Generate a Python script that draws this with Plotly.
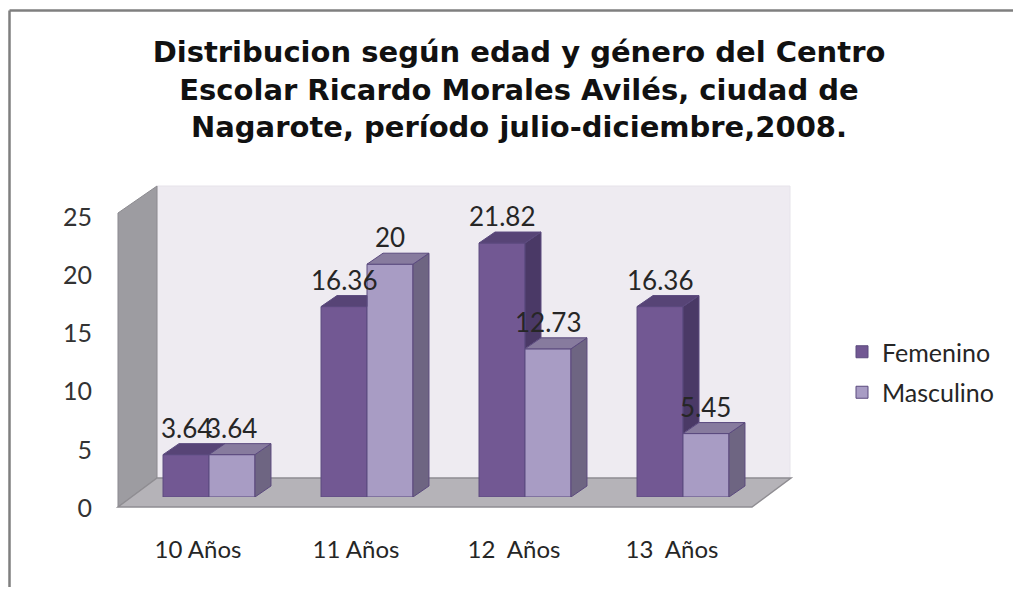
import plotly.graph_objects as go

# ---------------- data ----------------
categories = ["10 Años", "11 Años", "12\u00a0 Años", "13\u00a0 Años"]
femenino = [3.64, 16.36, 21.82, 16.36]
masculino = [3.64, 20, 12.73, 5.45]
series_names = ["Femenino", "Masculino"]
y_ticks = [0, 5, 10, 15, 20, 25]
title_lines = [
    "Distribucion según edad y género del Centro",
    "Escolar Ricardo Morales Avilés, ciudad de",
    "Nagarote, período julio-diciembre,2008.",
]

# ---------------- layout constants (screen pixels) ----------------
# the page body has an 8px margin, so the figure is drawn at (8, 8);
# keep the figure inside the window so no scrollbars appear
OFF = 8
W, H = 1021 - 2 * OFF, 595 - 2 * OFF
def px(x):
    return (x - OFF) / W
def py(y):
    return 1 - (y - OFF) / H

X_L, X_R = 130, 762          # pixel span of category range [-0.5, 3.5]
Y0, Y25 = 497, 206           # pixel of value 0 and 25 on bar plane
BAR_W = 0.291                # bar width in category units
DEPTH_X_PX, DEPTH_Y_PX = 16, 11
x_per_px = 4.0 / (X_R - X_L)
y_per_px = 25.0 / (Y0 - Y25)
DX = DEPTH_X_PX * x_per_px
DY = DEPTH_Y_PX * y_per_px

FEM_FRONT, FEM_TOP, FEM_SIDE = "#725893", "#574476", "#4A3966"
MAS_FRONT, MAS_TOP, MAS_SIDE = "#A89CC4", "#877B9E", "#6E6582"
EDGE = "#5B4A7E"
FONT = "Lato"

xs = list(range(len(categories)))

fig = go.Figure()
fig.add_trace(go.Bar(
    x=xs, y=femenino, name=series_names[0], width=BAR_W, offset=-BAR_W,
    marker=dict(color=FEM_FRONT, line=dict(color=EDGE, width=1)),
    legendgroup="f", hoverinfo="skip"))
fig.add_trace(go.Bar(
    x=xs, y=masculino, name=series_names[1], width=BAR_W, offset=0,
    marker=dict(color=MAS_FRONT, line=dict(color=EDGE, width=1)),
    legendgroup="m", hoverinfo="skip"))

# invisible helper traces for the offset label axes
fig.add_trace(go.Scatter(x=xs, y=[0] * len(xs), xaxis="x2", yaxis="y",
                         mode="markers", marker=dict(opacity=0),
                         showlegend=False, hoverinfo="skip"))
fig.add_trace(go.Scatter(x=[0], y=[0], xaxis="x", yaxis="y2",
                         mode="markers", marker=dict(opacity=0),
                         showlegend=False, hoverinfo="skip"))

shapes = []
def ppoly(pts, fill, line=None, lw=1, layer="below"):
    path = "M " + " L ".join(f"{px(a):.5f},{py(b):.5f}" for a, b in pts) + " Z"
    shapes.append(dict(type="path", xref="paper", yref="paper", path=path,
                       fillcolor=fill, line=dict(color=line or fill, width=lw),
                       layer=layer))

# chart frame (only top and left edges are inside the picture)
for (xa, ya, xb, yb) in ((9.5, 10.5, 1030, 10.5), (9.5, 10.5, 9.5, 610)):
    shapes.append(dict(type="line", xref="paper", yref="paper",
                       x0=px(xa), y0=py(ya), x1=px(xb), y1=py(yb),
                       line=dict(color="#7F7F7F", width=2.5), layer="below"))
# back wall
ppoly([(157, 186), (790, 186), (790, 478), (157, 478)], "#EEEBF1", "#E6E3EA")
# side wall
ppoly([(118, 213), (157, 186), (157, 478), (118, 507)], "#9D9CA1", "#8C8B90")
# floor
ppoly([(118, 507), (157, 478), (791, 478), (752, 507)], "#B5B3B8", "#8F8D92", lw=1.5)


def dpoly(pts, fill):
    path = "M " + " L ".join(f"{a:.5f},{b:.5f}" for a, b in pts) + " Z"
    shapes.append(dict(type="path", xref="x", yref="y", path=path,
                       fillcolor=fill, line=dict(color=EDGE, width=1), layer="above"))

for i, (f, m) in enumerate(zip(femenino, masculino)):
    # femenino box (left)
    xl, xr = i - BAR_W, i
    if m < f:
        dpoly([(xr, m), (xr + DX, m + DY), (xr + DX, f + DY), (xr, f)], FEM_SIDE)
    if m <= f:
        dpoly([(xl, f), (xr, f), (xr + DX, f + DY), (xl + DX, f + DY)], FEM_TOP)
    else:
        dpoly([(xl, f), (xr, f), (xr, f + DY), (xl + DX, f + DY)], FEM_TOP)
    # masculino box (right)
    xl, xr = i, i + BAR_W
    dpoly([(xr, 0), (xr + DX, DY), (xr + DX, m + DY), (xr, m)], MAS_SIDE)
    dpoly([(xl, m), (xr, m), (xr + DX, m + DY), (xl + DX, m + DY)], MAS_TOP)

annotations = []
for i, (f, m) in enumerate(zip(femenino, masculino)):
    for val, off in ((f, -BAR_W / 2), (m, BAR_W / 2)):
        annotations.append(dict(x=i + off, y=val, xref="x", yref="y",
                                text=f"{val:g}", showarrow=False, yshift=27,
                                yanchor="middle",
                                font=dict(family=FONT, size=26, color="#262626")))

fig.update_layout(
    template="none",
    width=W, height=H,
    margin=dict(l=0, r=0, t=0, b=0, pad=0, autoexpand=False),
    paper_bgcolor="white", plot_bgcolor="rgba(0,0,0,0)",
    barmode="overlay",
    showlegend=True,
    title=dict(text="<br>".join(title_lines), x=px(519), xanchor="center",
               y=py(62), yanchor="top",
               font=dict(family="DejaVu Sans", size=29, color="#111111",
                         weight="bold")),
    xaxis=dict(domain=[px(X_L), px(X_R)], range=[-0.5, 3.5], automargin=False,
               showticklabels=False, showgrid=False, zeroline=False,
               showline=False, ticks="", fixedrange=True),
    xaxis2=dict(domain=[px(X_L - 11), px(X_R - 11)], range=[-0.5, 3.5],
                anchor="free", position=py(533), side="bottom", automargin=False,
                tickmode="array", tickvals=xs, ticktext=categories,
                showgrid=False, zeroline=False, showline=False, ticks="",
                tickfont=dict(family=FONT, size=24, color="#262626")),
    yaxis=dict(domain=[py(Y0), py(Y25)], range=[0, 25], automargin=False,
               showticklabels=False, showgrid=False, zeroline=False,
               showline=False, ticks="", fixedrange=True),
    yaxis2=dict(domain=[py(508), py(217)], range=[0, 25],
                anchor="free", position=px(92), side="left", automargin=False,
                tickmode="array", tickvals=y_ticks,
                showgrid=False, zeroline=False, showline=False, ticks="",
                tickfont=dict(family=FONT, size=25, color="#333333")),
    legend=dict(x=px(842), y=py(329), xanchor="left", yanchor="top",
                bgcolor="rgba(0,0,0,0)", tracegroupgap=5,
                font=dict(family=FONT, size=25, color="#262626")),
    shapes=shapes,
    annotations=annotations,
)

fig.write_html("out.html")
